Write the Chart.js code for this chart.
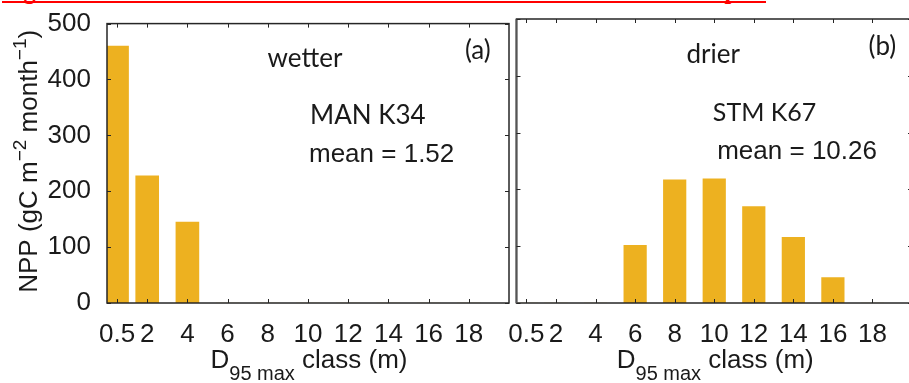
<!DOCTYPE html>
<html><head><meta charset="utf-8">
<script src="https://cdn.jsdelivr.net/npm/chart.js@4/dist/chart.umd.min.js"></script>
<style>
html,body{margin:0;padding:0;width:909px;height:383px;overflow:hidden;background:#fff;position:relative}
#cap{position:absolute;left:2px;top:-19px;white-space:nowrap;font-family:'Liberation Serif',serif;font-weight:bold;font-size:20px;line-height:20px;color:#ff0000;border-bottom:2px solid #ff0000}
#wl{position:absolute;left:0;top:0;width:520px;height:383px}
#wr{position:absolute;left:500px;top:0;width:420px;height:383px}
</style></head><body>
<div id="cap">Figure 22: Mean annual NOWD for 2008-2010 under ‘core’ climate input.</div>
<div id="wl"><canvas id="cl" width="520" height="383"></canvas></div>
<div id="wr"><canvas id="cr" width="420" height="383"></canvas></div>
<script>
// ---- data ----
const sizeClasses = [0.5, 2, 4, 6, 8, 10, 12, 14, 16, 18];
const xTickValues = [0.5, 2, 4, 6, 8, 10, 12, 14, 16, 18];
const yTickValues = [0, 100, 200, 300, 400, 500];
const nppWetterMAN = [462, 230, 147, 1, 1, 1, 1, 1, 1, 1];
const nppDrierSTM = [1, 1, 1, 104, 219, 221, 172, 118, 47, 1];
const yTitleParts = [["NPP (gC m", 0], ["\u22122", 1], [" month", 0], ["\u22121", 1], [")", 0]];
const xTitleParts = [["D", 0], ["95 max", 1], [" class (m)", 0]];

// fit caption width
(function(){const c=document.getElementById('cap');const w=c.getBoundingClientRect().width;const fs=20*764/w;c.style.fontSize=fs+'px';c.style.lineHeight='20px';})();

const INK = '#1a1a1a';
const SANS = '"Liberation Sans", Arial, sans-serif';
const CAL = 'Lato, "Open Sans", sans-serif';

function drawParts(ctx, parts, cx, y, mainSize, subSize, subDy) {
  let total = 0;
  const w = parts.map(p => { ctx.font = (p[1] ? subSize : mainSize) + 'px ' + SANS; const m = ctx.measureText(p[0]).width; total += m; return m; });
  let x = cx - total / 2;
  parts.forEach((p, i) => { ctx.font = (p[1] ? subSize : mainSize) + 'px ' + SANS; ctx.fillText(p[0], x, y + (p[1] ? subDy : 0)); x += w[i]; });
}

const panelPlugin = {
  id: 'panel',
  afterDatasetsDraw(chart, args, o) {
    const {ctx, chartArea: a, scales: {x, y}} = chart;
    ctx.save();
    ctx.strokeStyle = '#262626';
    ctx.lineWidth = 1.5;
    ctx.strokeRect(a.left, a.top, a.right - a.left, a.bottom - a.top);
    if (o.leftEdge) {
      ctx.strokeStyle = '#555';
      ctx.lineWidth = 2;
      ctx.beginPath(); ctx.moveTo(a.left, a.top); ctx.lineTo(a.left, a.bottom); ctx.stroke();
      ctx.strokeStyle = '#262626';
    }
    ctx.lineWidth = 1;
    const L = 4;
    ctx.beginPath();
    x.ticks.forEach(t => { const p = Math.round(x.getPixelForValue(t.value)) + 0.5; ctx.moveTo(p, a.bottom); ctx.lineTo(p, a.bottom - L); ctx.moveTo(p, a.top); ctx.lineTo(p, a.top + L); });
    y.ticks.forEach(t => { const p = Math.round(y.getPixelForValue(t.value)) + 0.5; ctx.moveTo(a.left, p); ctx.lineTo(a.left + L, p); ctx.moveTo(a.right, p); ctx.lineTo(a.right - L, p); });
    ctx.stroke();
    ctx.fillStyle = INK;
    // annotations (positions given in data units)
    o.notes.forEach(n => {
      ctx.font = n.size + 'px ' + n.font;
      ctx.textAlign = n.align;
      ctx.textBaseline = 'alphabetic';
      ctx.fillText(n.text, x.getPixelForValue(n.x), y.getPixelForValue(n.y));
    });
    ctx.textAlign = 'left';
    // x title
    drawParts(ctx, xTitleParts, (a.left + a.right) / 2 + 1, 368, 26, 20, 12);
    // y title
    if (o.yTitle) {
      ctx.translate(37, (a.top + a.bottom) / 2 - 2);
      ctx.rotate(-Math.PI / 2);
      drawParts(ctx, yTitleParts, 0, 0, 26, 19, -11);
    }
    ctx.restore();
  }
};

function makeChart(id, values, cfg) {
  return new Chart(document.getElementById(id), {
    type: 'bar',
    data: { datasets: [{
      data: sizeClasses.map((c, i) => ({x: c, y: values[i]})),
      backgroundColor: '#EDB120', borderColor: 'rgba(255,255,255,0.5)', borderWidth: 1,
      categoryPercentage: 1, barPercentage: 0.85, clip: 0
    }] },
    options: {
      responsive: false, animation: false,
      layout: { autoPadding: false, padding: { top: 19, right: cfg.padRight, bottom: 0, left: 0 } },
      plugins: { legend: { display: false }, tooltip: { enabled: false }, panel: { notes: cfg.notes, yTitle: cfg.yTitle, leftEdge: cfg.leftEdge } },
      scales: {
        x: {
          type: 'linear', min: 0, max: 20, offset: false,
          grid: { display: false }, border: { display: false },
          afterBuildTicks: s => { s.ticks = xTickValues.map(v => ({value: v})); },
          afterFit: s => { s.height = 80; },
          ticks: { autoSkip: false, maxRotation: 0, padding: 8, color: INK, font: { family: SANS, size: 26 }, callback: v => String(v) }
        },
        y: {
          type: 'linear', min: 0, max: 500,
          grid: { display: false }, border: { display: false },
          afterBuildTicks: s => { s.ticks = yTickValues.map(v => ({value: v})); },
          afterFit: s => { s.width = cfg.yWidth; },
          ticks: { display: cfg.showY, padding: 8, color: INK, font: { family: SANS, size: 26 } }
        }
      }
    },
    plugins: [panelPlugin]
  });
}

makeChart('cl', nppWetterMAN, {
  padRight: 11, yWidth: 107, showY: true, yTitle: true, leftEdge: false,
  notes: [
    {text: 'wetter', x: 9.85, y: 422, align: 'center', font: CAL, size: 26},
    {text: '(a)', x: 18.45, y: 437, align: 'center', font: CAL, size: 26},
    {text: 'MAN K34', x: 10.1, y: 321, align: 'left', font: CAL, size: 26},
    {text: 'mean = 1.52', x: 10.05, y: 253, align: 'left', font: SANS, size: 26}
  ]
});
makeChart('cr', nppDrierSTM, {
  padRight: 8, yWidth: 12, showY: false, yTitle: false, leftEdge: true,
  notes: [
    {text: 'drier', x: 9.95, y: 422, align: 'center', font: CAL, size: 26},
    {text: '(b)', x: 18.5, y: 437, align: 'center', font: CAL, size: 26},
    {text: 'STM K67', x: 9.93, y: 321, align: 'left', font: CAL, size: 25},
    {text: 'mean = 10.26', x: 10.15, y: 253, align: 'left', font: SANS, size: 26}
  ]
});
</script>
</body></html>
